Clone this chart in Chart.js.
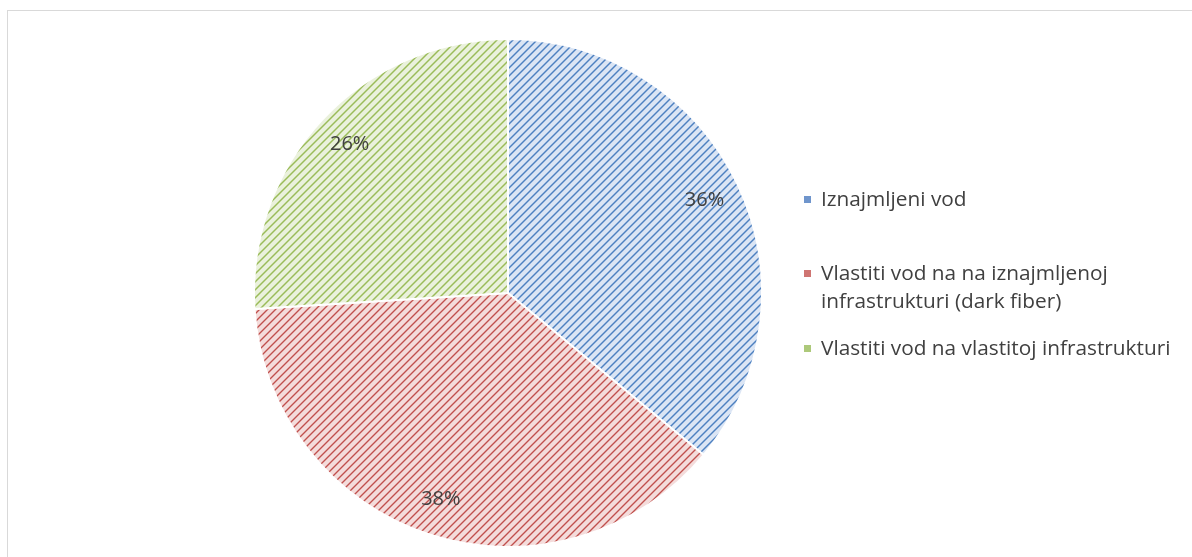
<!DOCTYPE html>
<html><head><meta charset="utf-8">
<script src="https://cdn.jsdelivr.net/npm/chart.js@4.4.0/dist/chart.umd.min.js"></script>
<style>html,body{margin:0;padding:0;background:#fff;overflow:hidden}#wrap{position:absolute;left:0;top:0;width:1192px;height:557px}</style>
</head><body><div id="wrap"><canvas id="c" width="1192" height="557"></canvas></div>
<script>
const categories = ['Iznajmljeni vod', 'Vlastiti vod na na iznajmljenoj infrastrukturi (dark fiber)', 'Vlastiti vod na vlastitoj infrastrukturi'];
const legendLines = [['Iznajmljeni vod'], ['Vlastiti vod na na iznajmljenoj', 'infrastrukturi (dark fiber)'], ['Vlastiti vod na vlastitoj infrastrukturi']];
const values = [36, 38, 26];
const fgColors = ['#4f81bd', '#c0504d', '#9bbb59'];
const midColors = ['#8fb0dc', '#dc9a98', '#bfd596'];
const bgColors = ['#dbe5f4', '#f4dcdb', '#eaf1dc'];
const markerColors = ['#6f95cc', '#cf7572', '#adc97a'];

function makePattern(fg, mid, bg) {
  const t = document.createElement('canvas'); t.width = 8; t.height = 8;
  const g = t.getContext('2d');
  g.fillStyle = bg; g.fillRect(0, 0, 8, 8);
  for (let y = 0; y < 8; y++) for (let x = 0; x < 8; x++) {
    const k = (x + y) % 8;
    if (k === 0) { g.fillStyle = fg; g.fillRect(x, y, 1, 1); }
    else if (k === 1 || k === 7) { g.fillStyle = mid; g.fillRect(x, y, 1, 1); }
  }
  return g.createPattern(t, 'repeat');
}
const patterns = fgColors.map((c, i) => makePattern(c, midColors[i], bgColors[i]));

const FONT = '"Open Sans", "Noto Sans", sans-serif';

const framePlugin = {
  id: 'frame',
  beforeDraw(chart) {
    const ctx = chart.ctx;
    ctx.save();
    ctx.fillStyle = '#fff';
    ctx.fillRect(0, 0, chart.width, chart.height);
    ctx.strokeStyle = '#d9d9d9';
    ctx.lineWidth = 1;
    ctx.strokeRect(7.5, 10.5, 1300, 700);
    ctx.restore();
  }
};

const labelPlugin = {
  id: 'pctLabels',
  afterDatasetsDraw(chart) {
    const ctx = chart.ctx;
    const meta = chart.getDatasetMeta(0);
    ctx.save();
    ctx.font = '20px ' + FONT;
    ctx.fillStyle = '#404040';
    ctx.textAlign = 'center';
    ctx.textBaseline = 'middle';
    meta.data.forEach((arc, i) => {
      const p = arc.getProps(['x', 'y', 'startAngle', 'endAngle', 'outerRadius'], true);
      const mid = (p.startAngle + p.endAngle) / 2;
      const r = p.outerRadius * 0.855;
      ctx.fillText(values[i] + '%', p.x + Math.cos(mid) * r, p.y + Math.sin(mid) * r);
    });
    ctx.restore();
  }
};

const legendPlugin = {
  id: 'sideLegend',
  afterDraw(chart) {
    const ctx = chart.ctx;
    ctx.save();
    ctx.font = '20.8px ' + FONT;
    ctx.textBaseline = 'alphabetic';
    const baselines = [206, 280, 355];
    legendLines.forEach((lines, i) => {
      const by = baselines[i];
      ctx.fillStyle = markerColors[i];
      ctx.fillRect(804, by - 10, 7, 7);
      ctx.fillStyle = '#404040';
      lines.forEach((ln, j) => ctx.fillText(ln, 821, by + j * 28));
    });
    ctx.restore();
  }
};

new Chart(document.getElementById('c'), {
  type: 'pie',
  data: {
    labels: categories,
    datasets: [{
      data: values,
      backgroundColor: patterns,
      borderColor: '#ffffff',
      borderWidth: 2
    }]
  },
  options: {
    responsive: false,
    animation: false,
    devicePixelRatio: 1,
    layout: { padding: { left: 253, right: 429, top: 38, bottom: 9 } },
    plugins: { legend: { display: false }, tooltip: { enabled: false } },
    events: []
  },
  plugins: [framePlugin, labelPlugin, legendPlugin]
});
</script>
</body></html>
